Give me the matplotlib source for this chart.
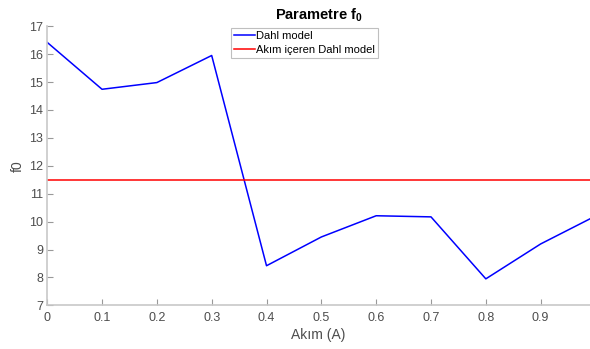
import matplotlib
matplotlib.use("Agg")
import matplotlib.pyplot as plt

x = [0, 0.1, 0.2, 0.3, 0.4, 0.5, 0.6, 0.7, 0.8, 0.9, 0.99]
dahl = [16.42, 14.74, 14.98, 15.95, 8.42, 9.45, 10.21, 10.17, 7.95, 9.2, 10.1]
akim_level = 11.5
xticks = [0, 0.1, 0.2, 0.3, 0.4, 0.5, 0.6, 0.7, 0.8, 0.9]
yticks = list(range(7, 18))

plt.rcParams['font.family'] = ['Liberation Sans', 'DejaVu Sans']
plt.rcParams['mathtext.default'] = 'regular'
fig = plt.figure(figsize=(5.9, 3.49), dpi=100)
ax = fig.add_axes([0.08, 0.125, 0.92, 0.800])

ax.plot(x, dahl, color='blue', lw=1.1, label='Dahl model')
ax.axhline(akim_level, color='red', lw=1.1, label='Akım içeren Dahl model')

ax.set_xlim(0, 0.99)
ax.set_ylim(7, 17)
ax.set_xticks(xticks)
ax.set_xticklabels(['0'] + [f'{v:g}' for v in xticks[1:]])
ax.set_yticks(yticks)

gray = '#4d4d4d'
for s in ['top', 'right']:
    ax.spines[s].set_visible(False)
for s in ['left', 'bottom']:
    ax.spines[s].set_color('#c8c8c8')
    ax.spines[s].set_linewidth(1.2)
ax.tick_params(direction='in', length=4, width=0.8, color='#999999', labelcolor=gray, labelsize=9)
ax.tick_params(axis='x', pad=4.5)
ax.tick_params(axis='y', pad=3)

ax.set_xlabel('Akım (A)', fontsize=10, color=gray, labelpad=3)
ax.set_ylabel('f0', fontsize=10, color=gray, labelpad=3)
ax.set_title('Parametre f$_0$', fontsize=10.5, fontweight='bold', pad=5)

leg = ax.legend(loc='upper left', bbox_to_anchor=(0.338, 0.995), fontsize=8,
                frameon=True, fancybox=False, borderpad=0.3, handlelength=1.9,
                handletextpad=0.1, labelspacing=0.35, borderaxespad=0)
leg.get_frame().set_edgecolor('#b0b0b0')
leg.get_frame().set_linewidth(0.8)

fig.savefig('out.png', dpi=100)
